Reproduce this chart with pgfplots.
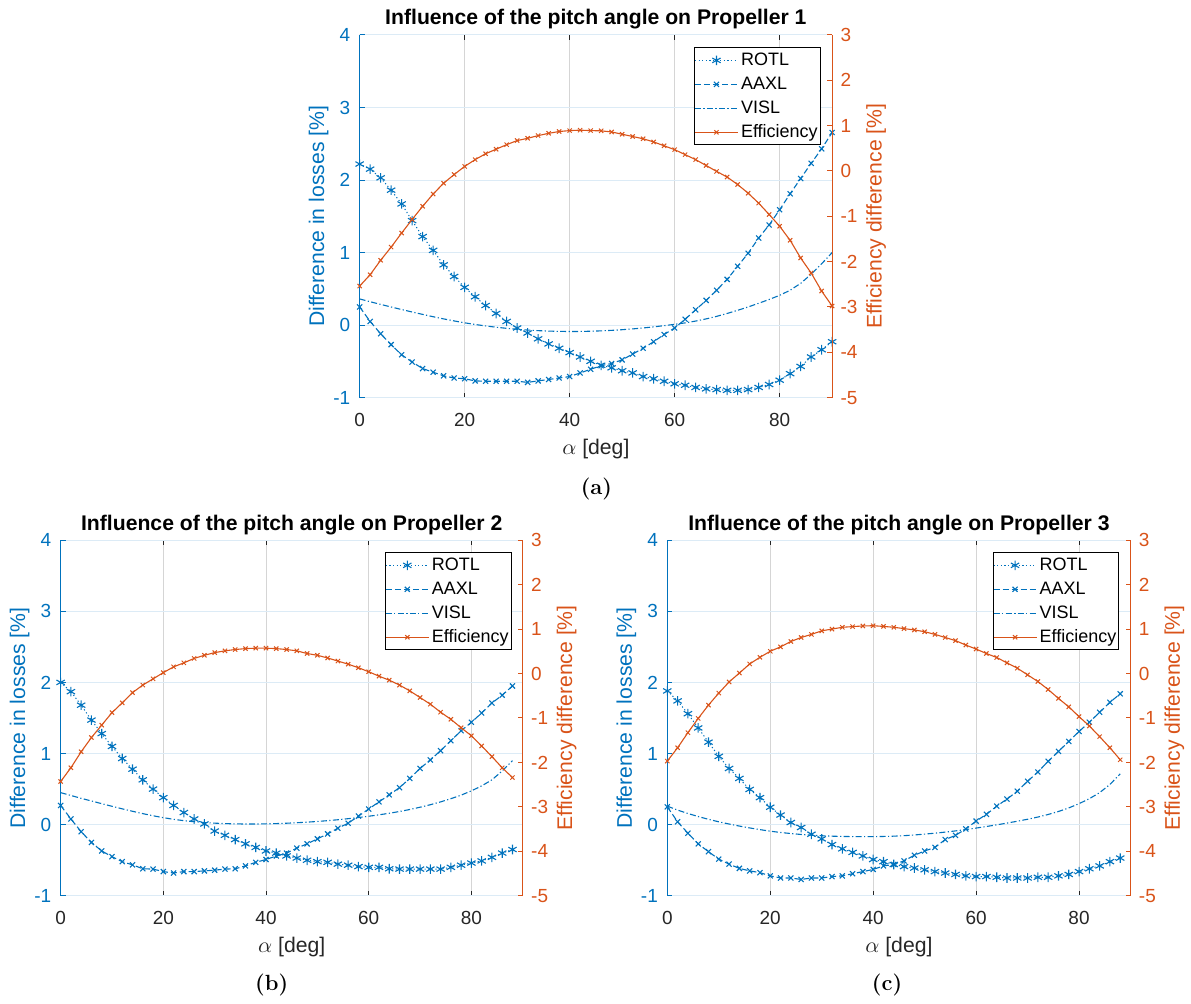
\documentclass[border=0pt]{standalone}
\usepackage{pgfplots}
\pgfplotsset{compat=1.18}
\usepackage{pgfplotstable}
\usepackage{fontspec}
\setsansfont{Liberation Sans}
\definecolor{mblue}{HTML}{0072BD}
\definecolor{morange}{HTML}{D95319}
\definecolor{mgray}{HTML}{262626}
\definecolor{ggray}{HTML}{D5D5D5}
\definecolor{gblue}{HTML}{DCEBF6}

\pgfplotstableread{
x rotl aaxl visl eff
0 2.22 0.25 0.36 -2.54
2 2.15 0.05 0.322 -2.29
4 2.03 -0.12 0.285 -1.97
6 1.86 -0.27 0.249 -1.68
8 1.67 -0.41 0.214 -1.37
10 1.44 -0.51 0.18 -1.07
12 1.22 -0.60 0.147 -0.78
14 1.03 -0.65 0.115 -0.51
16 0.83 -0.70 0.085 -0.27
18 0.67 -0.73 0.057 -0.08
20 0.52 -0.74 0.031 0.10
22 0.39 -0.77 0.008 0.25
24 0.27 -0.775 -0.012 0.38
26 0.16 -0.775 -0.03 0.48
28 0.05 -0.775 -0.045 0.58
30 -0.04 -0.775 -0.058 0.67
32 -0.11 -0.79 -0.069 0.72
34 -0.19 -0.77 -0.077 0.78
36 -0.26 -0.75 -0.083 0.83
38 -0.32 -0.73 -0.087 0.87
40 -0.38 -0.71 -0.089 0.89
42 -0.44 -0.66 -0.088 0.90
44 -0.50 -0.61 -0.085 0.89
46 -0.555 -0.56 -0.08 0.885
48 -0.59 -0.53 -0.073 0.86
50 -0.63 -0.48 -0.064 0.81
52 -0.66 -0.40 -0.053 0.76
54 -0.71 -0.32 -0.04 0.71
56 -0.74 -0.23 -0.025 0.64
58 -0.775 -0.13 -0.008 0.555
60 -0.81 -0.04 0.01 0.47
62 -0.83 0.08 0.03 0.36
64 -0.86 0.21 0.055 0.25
66 -0.88 0.34 0.085 0.12
68 -0.89 0.48 0.12 -0.01
70 -0.90 0.63 0.16 -0.135
72 -0.90 0.81 0.203 -0.30
74 -0.89 0.99 0.25 -0.49
76 -0.86 1.20 0.30 -0.71
78 -0.82 1.38 0.353 -0.96
80 -0.76 1.59 0.41 -1.22
82 -0.67 1.81 0.48 -1.53
84 -0.57 2.02 0.575 -1.92
86 -0.44 2.23 0.70 -2.25
88 -0.34 2.43 0.845 -2.65
90 -0.23 2.655 1.00 -2.98
}\tabA

\pgfplotstableread{
x rotl aaxl visl eff
0 2.00 0.27 0.45 -2.43
2 1.87 0.08 0.41 -2.12
4 1.68 -0.10 0.37 -1.76
6 1.47 -0.25 0.333 -1.44
8 1.28 -0.37 0.295 -1.16
10 1.10 -0.45 0.258 -0.88
12 0.93 -0.52 0.222 -0.66
14 0.78 -0.565 0.188 -0.43
16 0.63 -0.62 0.155 -0.26
18 0.50 -0.625 0.125 -0.12
20 0.38 -0.66 0.098 0.02
22 0.27 -0.68 0.075 0.15
24 0.17 -0.66 0.056 0.24
26 0.08 -0.66 0.041 0.34
28 0.01 -0.65 0.03 0.41
30 -0.09 -0.64 0.021 0.47
32 -0.15 -0.625 0.015 0.51
34 -0.21 -0.62 0.011 0.54
36 -0.27 -0.58 0.009 0.56
38 -0.32 -0.53 0.009 0.57
40 -0.37 -0.49 0.011 0.57
42 -0.40 -0.44 0.015 0.56
44 -0.44 -0.40 0.02 0.54
46 -0.47 -0.33 0.027 0.51
48 -0.50 -0.27 0.035 0.45
50 -0.52 -0.20 0.045 0.41
52 -0.53 -0.13 0.056 0.35
54 -0.555 -0.05 0.069 0.28
56 -0.57 0.02 0.084 0.21
58 -0.59 0.12 0.10 0.13
60 -0.60 0.22 0.118 0.04
62 -0.60 0.32 0.138 -0.06
64 -0.62 0.42 0.16 -0.15
66 -0.625 0.52 0.185 -0.26
68 -0.625 0.65 0.213 -0.39
70 -0.625 0.79 0.245 -0.54
72 -0.625 0.91 0.28 -0.69
74 -0.625 1.04 0.32 -0.87
76 -0.60 1.18 0.365 -1.03
78 -0.57 1.32 0.415 -1.22
80 -0.54 1.44 0.475 -1.40
82 -0.51 1.57 0.545 -1.63
84 -0.46 1.71 0.63 -1.87
86 -0.40 1.82 0.755 -2.12
88 -0.35 1.95 0.90 -2.34
}\tabB

\pgfplotstableread{
x rotl aaxl visl eff
0 1.88 0.25 0.26 -1.97
2 1.74 0.04 0.205 -1.67
4 1.56 -0.12 0.157 -1.33
6 1.36 -0.27 0.114 -1.01
8 1.16 -0.38 0.075 -0.71
10 0.96 -0.485 0.04 -0.44
12 0.79 -0.555 0.009 -0.19
14 0.65 -0.615 -0.02 0.01
16 0.495 -0.65 -0.046 0.215
18 0.38 -0.675 -0.07 0.365
20 0.245 -0.72 -0.092 0.50
22 0.135 -0.75 -0.11 0.60
24 0.03 -0.75 -0.125 0.72
26 -0.04 -0.77 -0.138 0.81
28 -0.135 -0.75 -0.148 0.88
30 -0.20 -0.75 -0.156 0.96
32 -0.28 -0.73 -0.162 1.00
34 -0.34 -0.72 -0.166 1.04
36 -0.39 -0.69 -0.168 1.055
38 -0.44 -0.66 -0.169 1.07
40 -0.49 -0.63 -0.168 1.075
42 -0.52 -0.58 -0.166 1.06
44 -0.56 -0.56 -0.162 1.04
46 -0.59 -0.51 -0.155 1.01
48 -0.61 -0.43 -0.145 0.98
50 -0.635 -0.37 -0.133 0.94
52 -0.66 -0.32 -0.12 0.88
54 -0.68 -0.21 -0.105 0.81
56 -0.70 -0.15 -0.088 0.74
58 -0.72 -0.06 -0.069 0.64
60 -0.73 0.05 -0.048 0.55
62 -0.73 0.145 -0.026 0.45
64 -0.74 0.26 -0.003 0.36
66 -0.75 0.36 0.022 0.24
68 -0.75 0.47 0.048 0.12
70 -0.75 0.61 0.076 -0.03
72 -0.74 0.74 0.107 -0.18
74 -0.74 0.89 0.143 -0.36
76 -0.72 1.03 0.185 -0.56
78 -0.70 1.17 0.235 -0.75
80 -0.66 1.31 0.295 -0.97
82 -0.62 1.44 0.365 -1.18
84 -0.58 1.58 0.45 -1.42
86 -0.52 1.72 0.565 -1.67
88 -0.47 1.84 0.715 -1.94
}\tabC

\newcommand{\tickfont}{\sffamily\fontsize{9.5}{11}\selectfont}
\newcommand{\legfont}{\sffamily\fontsize{9}{10.5}\selectfont}
\newcommand{\labfont}{\sffamily\fontsize{10.6}{12}\selectfont}
\newcommand{\titfont}{\sffamily\bfseries\fontsize{10.6}{12}\selectfont}
\newcommand{\capfont}{\rmfamily\bfseries\fontsize{11}{13}\selectfont}

\pgfplotsset{
  base/.style={scale only axis, xmin=0, xmax=90, clip=false,
    /pgf/number format/assume math mode=true,
    tick label style={font=\tickfont},
    major tick length=2.5pt},
  xax/.style={base, ymin=0, ymax=1, axis y line=none, ytick=\empty,
    xtick={0,20,40,60,80}, xmajorgrids,
    grid style={draw=ggray, line width=0.5pt},
    axis line style={draw=mgray, line width=0.5pt},
    tick style={draw=mgray, line width=0.5pt},
    xticklabel style={anchor=base, yshift=-14.5pt, text=mgray},
    xlabel={$\alpha$ [deg]},
    every axis x label/.style={at={(axis description cs:0.5,0)}, anchor=base, yshift=-28.5pt, font=\labfont, text=mgray},
    every axis title/.style={at={(axis description cs:0.5,1)}, anchor=base, yshift=5pt, font=\titfont, text=black}},
  lax/.style={base, ymin=-1, ymax=4, ytick={-1,0,1,2,3,4}, xtick=\empty,
    axis x line=none, axis y line*=left, ytick pos=left, yticklabel pos=left,
    ymajorgrids,
    grid style={draw=gblue, line width=0.5pt},
    axis line style={draw=mblue, line width=0.5pt},
    tick style={draw=mblue, line width=0.5pt},
    yticklabel style={text=mblue, xshift=-1.2pt},
    ylabel={Difference in losses [\%]},
    every axis y label/.style={at={(axis description cs:0,0.5)}, anchor=center, xshift=-20.5pt, rotate=90, font=\labfont, text=mblue}},
  rax/.style={base, ymin=-5, ymax=3, ytick={-5,-4,-3,-2,-1,0,1,2,3}, xtick=\empty,
    axis x line=none, axis y line*=right, ytick pos=right, yticklabel pos=right,
    axis line style={draw=morange, line width=0.5pt},
    tick style={draw=morange, line width=0.5pt},
    yticklabel style={text=morange, xshift=0.7pt},
    ylabel={Efficiency difference [\%]},
    every axis y label/.style={at={(axis description cs:1,0.5)}, anchor=center, xshift=22pt, rotate=90, font=\labfont, text=morange},
    legend style={at={(axis description cs:0.976,0.966)}, anchor=north east, draw=black, line width=0.5pt, fill=white, font=\legfont, text=black, cells={anchor=west},
      inner xsep=0pt, inner ysep=0.3pt,
      nodes={inner xsep=1.3pt, inner ysep=1.6pt, text height=6.8pt, text depth=2pt}},
    legend image code/.code={\draw[mark repeat=2,mark phase=2,##1] plot coordinates {(0pt,0pt) (10.75pt,0pt) (21.5pt,0pt)};}},
  rotl/.style={color=mblue, line width=0.5pt, dash pattern=on 0.6pt off 1.2pt, mark=asterisk, mark size=2.4pt, mark options={solid, line width=0.55pt}},
  aaxl/.style={color=mblue, line width=0.55pt, dash pattern=on 3pt off 1.5pt, mark=x, mark size=1.8pt, mark options={solid, line width=0.55pt}},
  visl/.style={color=mblue, line width=0.55pt, dash pattern=on 3pt off 1.2pt on 0.6pt off 1.2pt},
  eff/.style={color=morange, line width=0.55pt, solid, mark=x, mark size=1.5pt, mark options={solid, line width=0.5pt}},
}

\begin{document}
\begin{tikzpicture}
\path (0,0) rectangle (595.5pt,500.5pt);
% ---------- (a)
\begin{axis}[xax, at={(180pt,301.5pt)}, anchor=south west, width=236.5pt, height=181.5pt,
  title={Influence of the pitch angle on Propeller 1}]
\end{axis}
\begin{axis}[lax, at={(180pt,301.5pt)}, anchor=south west, width=236.5pt, height=181.5pt]
\addplot[rotl] table[x=x,y=rotl]{\tabA};
\addplot[aaxl] table[x=x,y=aaxl]{\tabA};
\addplot[visl] table[x=x,y=visl]{\tabA};
\end{axis}
\begin{axis}[rax, at={(180pt,301.5pt)}, anchor=south west, width=236.5pt, height=181.5pt]
\addlegendimage{rotl}\addlegendentry{ROTL}
\addlegendimage{aaxl}\addlegendentry{AAXL}
\addlegendimage{visl}\addlegendentry{VISL}
\addplot[eff] table[x=x,y=eff]{\tabA};
\addlegendentry{Efficiency}
\end{axis}
\node[font=\capfont, anchor=base] at (298.5pt,253pt) {(a)};
% ---------- (b)
\begin{axis}[xax, at={(30.35pt,52.15pt)}, anchor=south west, width=231.3pt, height=178pt,
  title={Influence of the pitch angle on Propeller 2}]
\end{axis}
\begin{axis}[lax, at={(30.35pt,52.15pt)}, anchor=south west, width=231.3pt, height=178pt]
\addplot[rotl] table[x=x,y=rotl]{\tabB};
\addplot[aaxl] table[x=x,y=aaxl]{\tabB};
\addplot[visl] table[x=x,y=visl]{\tabB};
\end{axis}
\begin{axis}[rax, at={(30.35pt,52.15pt)}, anchor=south west, width=231.3pt, height=178pt]
\addlegendimage{rotl}\addlegendentry{ROTL}
\addlegendimage{aaxl}\addlegendentry{AAXL}
\addlegendimage{visl}\addlegendentry{VISL}
\addplot[eff] table[x=x,y=eff]{\tabB};
\addlegendentry{Efficiency}
\end{axis}
\node[font=\capfont, anchor=base] at (136pt,4.5pt) {(b)};
% ---------- (c)
\begin{axis}[xax, at={(334pt,52.15pt)}, anchor=south west, width=231.85pt, height=178pt,
  title={Influence of the pitch angle on Propeller 3}]
\end{axis}
\begin{axis}[lax, at={(334pt,52.15pt)}, anchor=south west, width=231.85pt, height=178pt]
\addplot[rotl] table[x=x,y=rotl]{\tabC};
\addplot[aaxl] table[x=x,y=aaxl]{\tabC};
\addplot[visl] table[x=x,y=visl]{\tabC};
\end{axis}
\begin{axis}[rax, at={(334pt,52.15pt)}, anchor=south west, width=231.85pt, height=178pt]
\addlegendimage{rotl}\addlegendentry{ROTL}
\addlegendimage{aaxl}\addlegendentry{AAXL}
\addlegendimage{visl}\addlegendentry{VISL}
\addplot[eff] table[x=x,y=eff]{\tabC};
\addlegendentry{Efficiency}
\end{axis}
\node[font=\capfont, anchor=base] at (444pt,4.5pt) {(c)};
\end{tikzpicture}
\end{document}
